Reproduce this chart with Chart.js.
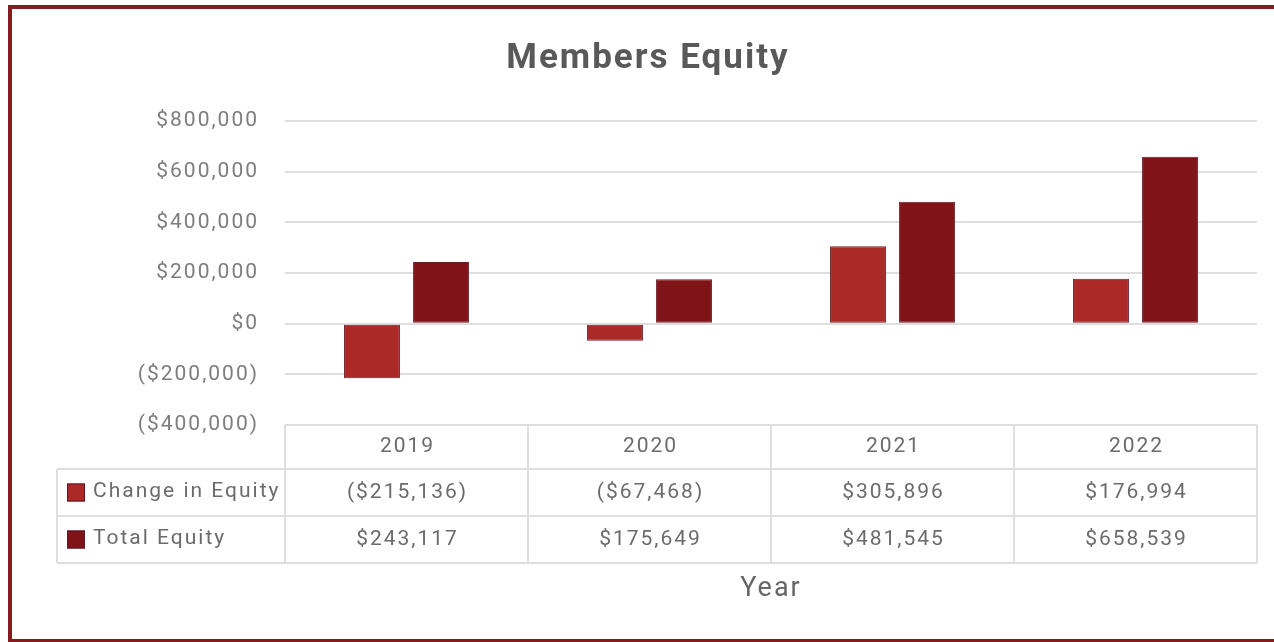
<!DOCTYPE html>
<html>
<head>
<meta charset="utf-8">
<script src="https://cdn.jsdelivr.net/npm/chart.js@4"></script>
<style>
  html, body { margin: 0; padding: 0; background: #fff; }
  #wrap { position: relative; width: 1274px; height: 642px; overflow: hidden; }
  #frame { position: absolute; left: 8px; top: 5px; width: 1300px; height: 638px;
           box-sizing: border-box; border: 4px solid #861a1f; pointer-events: none; }
</style>
</head>
<body>
<div id="wrap">
  <canvas id="myChart" width="1274" height="642"></canvas>
  <div id="frame"></div>
</div>
<script>
// chart data
const years = ['2019', '2020', '2021', '2022'];
const changeInEquity = [-215136, -67468, 305896, 176994];
const totalEquity = [243117, 175649, 481545, 658539];
const seriesNames = ['Change in Equity', 'Total Equity'];
const seriesColors = ['#ab2a27', '#801317'];

// money format, negatives in brackets
function money(v) {
  const s = '$' + Math.abs(v).toLocaleString('en-US');
  return v < 0 ? '(' + s + ')' : s;
}

// draws the data table under the plot, and sets wider letter spacing
const dataTable = {
  id: 'dataTable',
  beforeDraw(chart) {
    chart.ctx.letterSpacing = '2px';
  },
  afterDraw(chart) {
    const { ctx, chartArea, scales: { x } } = chart;
    const half = (x.getPixelForValue(1) - x.getPixelForValue(0)) / 2;
    const left = chartArea.left, right = chartArea.right;
    const top = chartArea.bottom;
    const lines = [top, top + 44, top + 91, top + 138];
    const labelLeft = left - 228;

    ctx.save();
    ctx.strokeStyle = '#dedede';
    ctx.lineWidth = 2;
    ctx.beginPath();
    ctx.moveTo(left, lines[0]); ctx.lineTo(right, lines[0]);
    for (let i = 1; i < 4; i++) {
      ctx.moveTo(labelLeft, lines[i]); ctx.lineTo(right, lines[i]);
    }
    ctx.moveTo(labelLeft, lines[1]); ctx.lineTo(labelLeft, lines[3]);
    for (let i = 0; i <= years.length; i++) {
      const xx = x.getPixelForValue(0) - half + i * half * 2;
      ctx.moveTo(xx, lines[0]); ctx.lineTo(xx, lines[3]);
    }
    ctx.stroke();

    ctx.font = '21px Roboto';
    ctx.fillStyle = '#6b6b6b';
    ctx.textBaseline = 'middle';
    ctx.textAlign = 'center';
    years.forEach((y, i) => {
      ctx.fillText(y, x.getPixelForValue(i) + 1, (lines[0] + lines[1]) / 2);
    });
    const rows = [changeInEquity, totalEquity];
    rows.forEach((vals, r) => {
      const cy = (lines[r + 1] + lines[r + 2]) / 2;
      vals.forEach((v, i) => {
        ctx.fillText(money(v), x.getPixelForValue(i) + 1, cy);
      });
      // legend key + series name
      ctx.fillStyle = seriesColors[r];
      ctx.fillRect(labelLeft + 10, cy - 9, 18, 18);
      ctx.strokeStyle = '#5e1626';
      ctx.lineWidth = 1;
      ctx.strokeRect(labelLeft + 10.5, cy - 8.5, 17, 17);
      ctx.fillStyle = '#6b6b6b';
      ctx.textAlign = 'left';
      ctx.fillText(seriesNames[r], labelLeft + 36, cy - 1);
      ctx.textAlign = 'center';
    });
    ctx.restore();
    ctx.letterSpacing = '0px';
  }
};

const ctx = document.getElementById('myChart').getContext('2d');

new Chart(ctx, {
  type: 'bar',
  data: {
    labels: years,
    datasets: [
      {
        label: seriesNames[0],
        data: changeInEquity,
        backgroundColor: seriesColors[0],
        borderColor: '#6a1a2a',
        borderWidth: 1,
        borderSkipped: false,
        categoryPercentage: 0.568,
        barPercentage: 0.81
      },
      {
        label: seriesNames[1],
        data: totalEquity,
        backgroundColor: seriesColors[1],
        borderColor: '#6a1a2a',
        borderWidth: 1,
        borderSkipped: false,
        categoryPercentage: 0.568,
        barPercentage: 0.81
      }
    ]
  },
  options: {
    responsive: false,
    animation: false,
    layout: { padding: { left: 39, right: 17, top: 0, bottom: 0 } },
    plugins: {
      legend: { display: false },
      tooltip: { enabled: false },
      title: {
        display: true,
        text: 'Members Equity',
        color: '#595959',
        font: { family: 'Roboto', size: 35, weight: 'bold' },
        padding: { top: 38, bottom: 41 }
      }
    },
    scales: {
      x: {
        ticks: { display: false },
        grid: { display: false },
        border: { display: false },
        title: {
          display: true,
          text: 'Year',
          color: '#666666',
          font: { family: 'Roboto', size: 27 },
          padding: { top: 0, bottom: 37 }
        },
        afterFit(scale) { scale.height = 217; }
      },
      y: {
        min: -400000,
        max: 800000,
        ticks: {
          stepSize: 200000,
          padding: 26,
          color: '#7d7d7d',
          font: { family: 'Roboto', size: 21 },
          callback: (v) => money(v)
        },
        grid: { color: '#dedede', lineWidth: 2, drawTicks: false },
        border: { display: false },
        afterFit(scale) { scale.width = 246; }
      }
    }
  },
  plugins: [dataTable]
});
</script>
</body>
</html>
